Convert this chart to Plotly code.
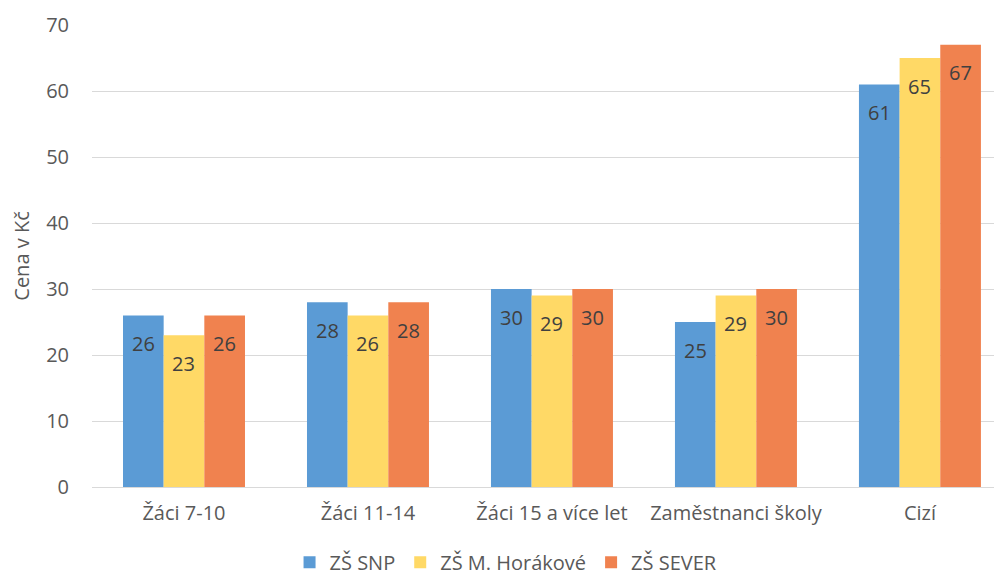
import plotly.graph_objects as go

categories = ["Žáci 7-10", "Žáci 11-14", "Žáci 15 a více let", "Zaměstnanci školy", "Cizí"]
series_names = ["ZŠ SNP", "ZŠ M. Horákové", "ZŠ SEVER"]
snp = [26, 28, 30, 25, 61]
horakove = [23, 26, 29, 29, 65]
sever = [26, 28, 30, 30, 67]
y_ticks = [0, 10, 20, 30, 40, 50, 60, 70]

colors = ["#5B9BD5", "#FFD966", "#F0824F"]
values = [snp, horakove, sever]

FONT = "Open Sans"
FS = 20
bargap = 0.337
bar_w = (1 - bargap) / 3

fig = go.Figure()
for name, vals, col in zip(series_names, values, colors):
    fig.add_trace(go.Bar(
        name=name, x=categories, y=vals,
        marker=dict(color=col, line=dict(width=0)),
    ))

annotations = []
for j, vals in enumerate(values):
    for i, v in enumerate(vals):
        annotations.append(dict(
            x=i + (j - 1) * bar_w, y=v, xref="x", yref="y",
            text=str(v), showarrow=False, yshift=-28,
            font=dict(family=FONT, size=FS, color="#404040"),
        ))

fig.update_layout(
    width=994, height=571,
    margin=dict(l=84, r=0, t=17, b=92, autoexpand=False),
    barmode="group", bargap=bargap, bargroupgap=0,
    plot_bgcolor="white", paper_bgcolor="white",
    font=dict(family=FONT, size=FS, color="#595959"),
    annotations=annotations,
    showlegend=True,
    legend=dict(orientation="h", x=0.455, xanchor="center", y=-0.163, yanchor="middle",
                font=dict(family=FONT, size=FS, color="#595959"),
                itemwidth=30, traceorder="normal"),
    xaxis=dict(range=[-0.5, 4.446], showgrid=False, ticks="", showline=False,
               automargin=False, ticklabelstandoff=12,
               tickfont=dict(family=FONT, size=FS, color="#595959")),
    yaxis=dict(range=[0, 70], tickvals=y_ticks, showgrid=True, gridcolor="#D9D9D9",
               gridwidth=1, zeroline=True, zerolinecolor="#D9D9D9", zerolinewidth=1,
               ticks="", ticklabelstandoff=22, automargin=False,
               tickfont=dict(family=FONT, size=FS, color="#595959"),
               title=dict(text="Cena v Kč", standoff=16,
                          font=dict(family=FONT, size=FS, color="#595959"))),
)

fig.write_html("out.html")
